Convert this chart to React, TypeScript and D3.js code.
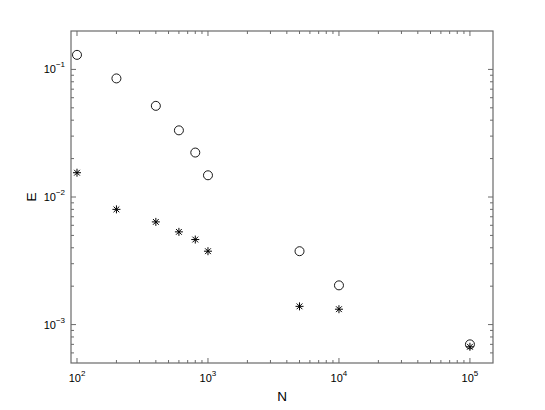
import React from 'react';
import * as d3 from 'd3';

// sample sizes and errors
const nValues = [100, 200, 400, 600, 800, 1000, 5000, 10000, 100000];
const circleErr = [0.13, 0.085, 0.0518, 0.0333, 0.0223, 0.0148, 0.00376, 0.00203, 0.0007];
const starErr = [0.0155, 0.008, 0.00638, 0.00533, 0.00464, 0.00376, 0.00139, 0.00132, 0.00067];

const xDecades = [2, 3, 4, 5];
const yDecades = [-1, -2, -3];

const W = 545;
const H = 410;
const margin = { top: 31, right: 52, bottom: 47, left: 71 };
const axisColor = '#6a6a6a';
const font = 'Liberation Sans, Arial, Helvetica, sans-serif';

const x = d3.scaleLog().domain([90, 1.5e5]).range([margin.left, W - margin.right]);
const y = d3.scaleLog().domain([5e-4, 0.2]).range([H - margin.bottom, margin.top]);

const minorTicks = (scale: d3.ScaleLogarithmic<number, number>) => {
  const [a, b] = scale.domain();
  const out: number[] = [];
  for (let e = Math.floor(Math.log10(a)); e <= Math.ceil(Math.log10(b)); e++) {
    for (let m = 2; m <= 9; m++) {
      const v = m * Math.pow(10, e);
      if (v > a && v < b) out.push(v);
    }
  }
  return out;
};

const Star = ({ cx, cy }: { cx: number; cy: number }) => {
  const r = 4;
  const d = r * 0.72;
  return (
    <g stroke="#000" strokeWidth={1}>
      <line x1={cx - r} y1={cy} x2={cx + r} y2={cy} />
      <line x1={cx} y1={cy - r} x2={cx} y2={cy + r} />
      <line x1={cx - d} y1={cy - d} x2={cx + d} y2={cy + d} />
      <line x1={cx - d} y1={cy + d} x2={cx + d} y2={cy - d} />
    </g>
  );
};

export default function App() {
  const [x0, x1] = x.range();
  const [y0, y1] = y.range(); // y0 bottom, y1 top
  const majorLen = 5;
  const minorLen = 3;
  const xMinor = minorTicks(x);
  const yMinor = minorTicks(y);

  return (
    <svg width={W} height={H} style={{ position: 'absolute', left: 0, top: 0, background: '#fff' }}>
      <rect x={0} y={0} width={W} height={H} fill="#fff" />

      {/* ticks, inward on all four sides */}
      <g stroke={axisColor} strokeWidth={1}>
        {xDecades.map(e => {
          const px = x(Math.pow(10, e));
          return (
            <g key={'xM' + e}>
              <line x1={px} x2={px} y1={y0} y2={y0 - majorLen} />
              <line x1={px} x2={px} y1={y1} y2={y1 + majorLen} />
            </g>
          );
        })}
        {xMinor.map(v => (
          <g key={'xm' + v}>
            <line x1={x(v)} x2={x(v)} y1={y0} y2={y0 - minorLen} />
            <line x1={x(v)} x2={x(v)} y1={y1} y2={y1 + minorLen} />
          </g>
        ))}
        {yDecades.map(e => {
          const py = y(Math.pow(10, e));
          return (
            <g key={'yM' + e}>
              <line x1={x0} x2={x0 + majorLen} y1={py} y2={py} />
              <line x1={x1} x2={x1 - majorLen} y1={py} y2={py} />
            </g>
          );
        })}
        {yMinor.map(v => (
          <g key={'ym' + v}>
            <line x1={x0} x2={x0 + minorLen} y1={y(v)} y2={y(v)} />
            <line x1={x1} x2={x1 - minorLen} y1={y(v)} y2={y(v)} />
          </g>
        ))}
      </g>

      <rect x={x0} y={y1} width={x1 - x0} height={y0 - y1} fill="none" stroke={axisColor} strokeWidth={1.2} />

      {/* tick labels */}
      <g fontFamily={font} fill="#000">
        {xDecades.map(e => (
          <text key={'xl' + e} x={x(Math.pow(10, e))} y={y0 + 19} fontSize={11} textAnchor="middle">
            10<tspan dy={-6} fontSize={8}>{e}</tspan>
          </text>
        ))}
        {yDecades.map(e => (
          <text key={'yl' + e} x={x0 - 6} y={y(Math.pow(10, e)) + 4} fontSize={11} textAnchor="end">
            10<tspan dy={-6} fontSize={8}>{'\u2212' + Math.abs(e)}</tspan>
          </text>
        ))}
        <text x={(x0 + x1) / 2} y={y0 + 38} fontSize={13.5} textAnchor="middle">N</text>
        <text transform={`translate(36, ${(y0 + y1) / 2}) rotate(-90)`} fontSize={13.5} textAnchor="middle">E</text>
      </g>

      {/* data */}
      <g>
        {nValues.map((n, i) => (
          <circle key={'c' + n} cx={x(n)} cy={y(circleErr[i])} r={4.5} fill="none" stroke="#000" strokeWidth={0.9} />
        ))}
        {nValues.map((n, i) => (
          <Star key={'s' + n} cx={x(n)} cy={y(starErr[i])} />
        ))}
      </g>
    </svg>
  );
}
